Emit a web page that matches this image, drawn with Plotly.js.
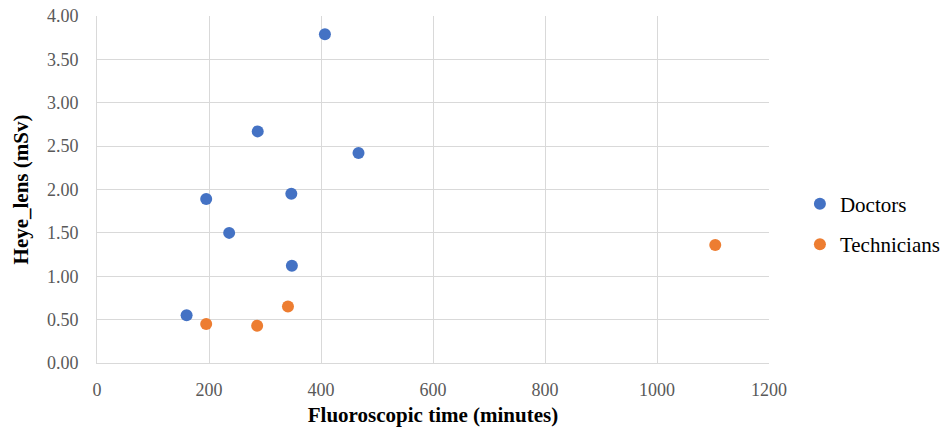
<!DOCTYPE html>
<html><head><meta charset="utf-8">
<script src="https://cdn.plot.ly/plotly-3.0.1.min.js"></script>
<style>html,body{margin:0;padding:0;background:#fff}#chart{width:941px;height:427px}</style>
</head><body><div id="chart"></div>
<script>
const doctorsTime = [160, 195, 236, 287, 347, 348, 407, 467];
const doctorsDose = [0.55, 1.89, 1.50, 2.67, 1.95, 1.12, 3.79, 2.42];
const techTime = [195, 286, 341, 1104];
const techDose = [0.45, 0.43, 0.65, 1.36];
const xTicks = [0, 200, 400, 600, 800, 1000, 1200];
const yTicks = [0, 0.5, 1, 1.5, 2, 2.5, 3, 3.5, 4];

const font = 'Liberation Serif';
const traces = [
  {x: doctorsTime, y: doctorsDose, name: 'Doctors', type: 'scatter', mode: 'markers',
   legendgroup: 'd', marker: {color: '#4472C4', size: 12}},
  {x: techTime, y: techDose, name: 'Technicians', type: 'scatter', mode: 'markers',
   legendgroup: 't', marker: {color: '#ED7D31', size: 12}}
];
const layout = {
  width: 941, height: 427,
  margin: {l: 97, r: 172, t: 16, b: 64, autoexpand: false},
  paper_bgcolor: '#fff', plot_bgcolor: '#fff',
  font: {family: font, color: '#000'},
  xaxis: {range: [0, 1200], tickvals: xTicks, ticktext: xTicks.map(String), automargin: false,
    showgrid: true, gridcolor: '#d9d9d9', gridwidth: 1, zeroline: false,
    showline: true, linecolor: '#d9d9d9', linewidth: 1, mirror: false,
    tickfont: {family: font, size: 18, color: '#595959'}, ticks: '', ticklabelstandoff: 10,
    title: {text: '<b>Fluoroscopic time (minutes)</b>', font: {family: font, size: 21, color: '#000'}, standoff: 8}},
  yaxis: {range: [0, 4], tickvals: yTicks, ticktext: yTicks.map(v => v.toFixed(2)), automargin: false,
    showgrid: true, gridcolor: '#d9d9d9', gridwidth: 1, zeroline: false,
    showline: true, linecolor: '#d9d9d9', linewidth: 1,
    tickfont: {family: font, size: 18, color: '#595959'}, ticks: '', ticklabelstandoff: 14,
    title: {text: '<b>Heye_lens (mSv)</b>', font: {family: font, size: 21, color: '#000'}, standoff: 12}},
  showlegend: true,
  legend: {x: 1.046, xanchor: 'left', y: 0.40, yanchor: 'middle',
    font: {family: font, size: 21, color: '#000'}, traceorder: 'grouped', tracegroupgap: 10,
    itemsizing: 'constant'}
};
Plotly.newPlot('chart', traces, layout, {displayModeBar: false, staticPlot: true});
</script></body></html>
